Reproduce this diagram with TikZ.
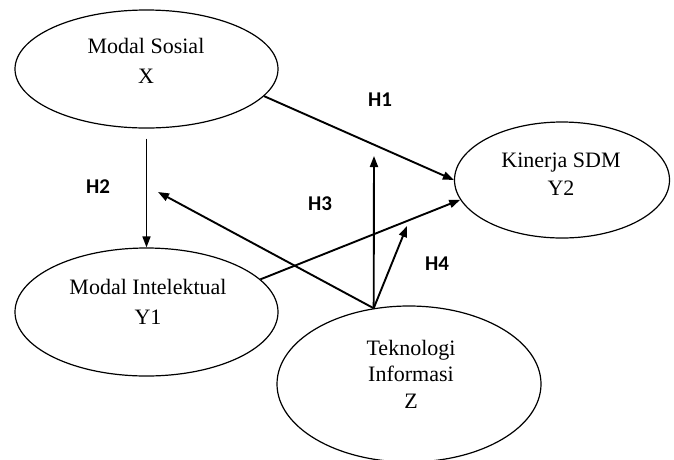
\documentclass[tikz,border=0pt]{standalone}
\usepackage{fontspec}
\setmainfont{Liberation Serif}
\newfontfamily\hfont{Carlito}
\usetikzlibrary{shapes.geometric,arrows.meta}
\tikzset{
  var/.style={ellipse,draw,line width=1.2pt,inner sep=0pt},
  txt/.style={align=center,font=\fontsize{22}{30}\selectfont},
  hyp/.style={font=\hfont\bfseries\fontsize{21}{24}\selectfont},
  link/.style={line width=1.9pt,-{Triangle[length=11pt,width=8pt]}}
}
\begin{document}
\begin{tikzpicture}[x=1pt,y=-1pt]
    \useasboundingbox (0,0) rectangle (674,459);
    % variables
    \node[var,minimum width=263pt,minimum height=118pt] (x) at (146.5,69) {};
    \node[var,minimum width=263pt,minimum height=128pt] (y1) at (146.5,312) {};
    \node[var,minimum width=215pt,minimum height=116pt] (y2) at (562,180) {};
    \node[var,minimum width=264pt,minimum height=156pt] (z) at (409,384) {};
    \node[txt] (tx) at (146,60.5) {Modal Sosial\\X};
    \node[txt] (ty1) at (148,301.5) {Modal Intelektual\\Y1};
    \node[txt,font=\fontsize{22}{28}\selectfont] (ty2) at (561,174.5) {Kinerja SDM\\Y2};
    \node[txt,font=\fontsize{22}{26.5}\selectfont] (tz) at (411,374) {Teknologi\\Informasi\\Z};
    % hypotheses
    \node[hyp] (h1) at (380,100) {H1};
    \node[hyp] (h2) at (98,187) {H2};
    \node[hyp] (h3) at (320,204) {H3};
    \node[hyp] (h4) at (437,264) {H4};
    % paths
    \draw[link] (x.-13.5) -- (y2.west);
    \draw[link,line width=1.6pt] ([yshift=-10pt]x.south) -- (y1.north);
    \draw[link] (y1.16) -- (y2.191);
    \coordinate (zs) at (z.115);
    \coordinate (m2) at (158,192);
    \coordinate (m1) at (374,156);
    \coordinate (m4) at (407,226);
    \foreach \t in {m2,m1,m4}{
        \draw[link] (zs) -- (\t);
    }
\end{tikzpicture}
\end{document}
